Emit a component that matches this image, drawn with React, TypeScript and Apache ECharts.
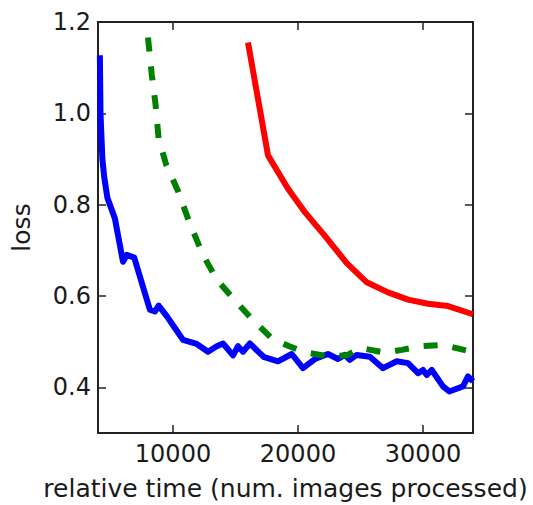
import React, { useEffect, useRef } from "react";
import * as echarts from "echarts";

const xTicks = [10000, 20000, 30000];
const yTicks = [0.4, 0.6, 0.8, 1.0, 1.2];

const blueX = [4150, 4200, 4350, 4500, 4750, 5350, 6000, 6300, 6900, 7600, 8150, 8550, 8850, 9500, 10150, 10800, 11900, 12800, 13500, 14000, 14800, 15200, 15600, 16150, 16900, 17300, 18400, 19500, 20400, 21350, 22400, 23200, 23750, 24150, 24700, 25750, 26800, 27900, 28800, 29600, 30000, 30300, 30700, 31600, 32100, 33200, 33600, 34000];
const blueY = [1.127, 1.0, 0.9, 0.86, 0.815, 0.77, 0.675, 0.69, 0.684, 0.62, 0.57, 0.566, 0.579, 0.556, 0.53, 0.504, 0.495, 0.478, 0.49, 0.496, 0.47, 0.49, 0.478, 0.496, 0.476, 0.466, 0.457, 0.473, 0.442, 0.462, 0.473, 0.462, 0.471, 0.46, 0.471, 0.467, 0.442, 0.457, 0.453, 0.431, 0.438, 0.427, 0.438, 0.402, 0.391, 0.402, 0.424, 0.413];

const greenX = [8000, 8300, 8600, 8850, 9450, 10400, 11300, 12400, 13500, 14900, 16200, 17900, 19300, 20500, 22400, 23900, 25000, 27000, 28300, 29800, 31600, 34000];
const greenY = [1.166, 1.085, 1.02, 0.945, 0.888, 0.83, 0.762, 0.69, 0.636, 0.592, 0.553, 0.507, 0.49, 0.477, 0.468, 0.47, 0.486, 0.476, 0.482, 0.49, 0.493, 0.477];

const redX = [16000, 17600, 19200, 20600, 22200, 23900, 25500, 27200, 28800, 30400, 32000, 34000];
const redY = [1.155, 0.908, 0.835, 0.782, 0.73, 0.672, 0.63, 0.608, 0.592, 0.583, 0.578, 0.56];

const xName = "relative time (num. images processed)";
const yName = "loss";

const pairs = (xs: number[], ys: number[]) => xs.map((x, i) => [x, ys[i]]);

export default function App() {
  const ref = useRef<HTMLDivElement>(null);
  useEffect(() => {
    const chart = echarts.init(ref.current!, null, { renderer: "svg" });
    const font = "DejaVu Sans";
    const ink = "#1a1a1a";
    const axisLine = { show: true, onZero: false, lineStyle: { color: "#222", width: 2 } };
    const tick = (vals: number[]) => ({
      show: true,
      inside: true,
      length: 8,
      customValues: vals,
      lineStyle: { color: "#222", width: 1.5 },
    });
    const labelStyle = { fontSize: 24, fontFamily: font, color: ink };
    const nameStyle = { fontSize: 25, fontFamily: font, color: ink };
    chart.setOption({
      animation: false,
      grid: { left: 98, top: 22, right: 60, bottom: 72, containLabel: false, outerBoundsMode: "none" },
      xAxis: [
        {
          type: "value",
          min: 4000,
          max: 34000,
          position: "bottom",
          axisLine,
          axisTick: tick(xTicks),
          axisLabel: { ...labelStyle, customValues: xTicks, margin: 9, formatter: (v: number) => String(v) },
          splitLine: { show: false },
          name: xName,
          nameLocation: "middle",
          nameGap: 43,
          nameTextStyle: nameStyle,
        },
        {
          type: "value",
          min: 4000,
          max: 34000,
          position: "top",
          axisLine,
          axisTick: tick(xTicks),
          axisLabel: { show: false },
          splitLine: { show: false },
        },
      ],
      yAxis: [
        {
          type: "value",
          min: 0.3,
          max: 1.2,
          position: "left",
          axisLine,
          axisTick: tick(yTicks),
          axisLabel: {
            ...labelStyle,
            customValues: yTicks,
            margin: 7,
            formatter: (v: number) => v.toFixed(1),
          },
          splitLine: { show: false },
          name: yName,
          nameLocation: "middle",
          nameGap: 64,
          nameTextStyle: nameStyle,
        },
        {
          type: "value",
          min: 0.3,
          max: 1.2,
          position: "right",
          axisLine,
          axisTick: tick(yTicks),
          axisLabel: { show: false },
          splitLine: { show: false },
        },
      ],
      series: [
        {
          type: "line",
          data: pairs(blueX, blueY),
          showSymbol: false,
          symbol: "none",
          lineStyle: { color: "#0000ff", width: 6, cap: "butt", join: "round" },
        },
        {
          type: "line",
          data: pairs(greenX, greenY),
          showSymbol: false,
          symbol: "none",
          lineStyle: { color: "#008000", width: 6, type: [14, 15], cap: "butt" },
        },
        {
          type: "line",
          data: pairs(redX, redY),
          showSymbol: false,
          symbol: "none",
          lineStyle: { color: "#ff0000", width: 6, cap: "butt", join: "round" },
        },
      ],
    });
    return () => chart.dispose();
  }, []);
  return (
    <div
      ref={ref}
      style={{ position: "fixed", left: 0, top: 0, width: 533, height: 505, background: "#fff" }}
    />
  );
}
